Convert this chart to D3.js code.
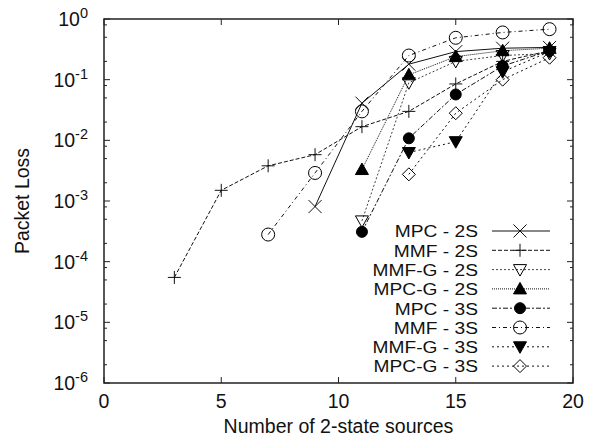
<!DOCTYPE html>
<html>
<head>
<meta charset="utf-8">
<script src="https://cdn.jsdelivr.net/npm/d3@7"></script>
<style>
  body { margin: 0; background: #fff; }
  text { font-family: "Liberation Sans", Arial, sans-serif; fill: #111; }
</style>
</head>
<body>
<div id="chart"></div>
<script>
// x values (number of 2-state sources) and packet loss for each series
const mpc2sX = [9, 11, 13, 15, 17, 19];
const mpc2sY = [8.1e-4, 0.041, 0.18, 0.29, 0.33, 0.34];
const mmf2sX = [3, 5, 7, 9, 11, 13, 15, 17, 19];
const mmf2sY = [5.5e-5, 1.5e-3, 3.8e-3, 5.8e-3, 0.0168, 0.030, 0.085, 0.20, 0.30];
const mmfg2sX = [11, 13, 15, 17, 19];
const mmfg2sY = [4.7e-4, 0.089, 0.20, 0.25, 0.27];
const mpcg2sX = [11, 13, 15, 17, 19];
const mpcg2sY = [3.3e-3, 0.12, 0.24, 0.30, 0.33];
const mpc3sX = [11, 13, 15, 17, 19];
const mpc3sY = [3.1e-4, 0.0108, 0.057, 0.168, 0.30];
const mmf3sX = [7, 9, 11, 13, 15, 17, 19];
const mmf3sY = [2.8e-4, 2.9e-3, 0.030, 0.25, 0.49, 0.60, 0.68];
const mmfg3sX = [13, 15, 17, 19];
const mmfg3sY = [6.3e-3, 0.0095, 0.135, 0.29];
const mpcg3sX = [13, 15, 17, 19];
const mpcg3sY = [2.75e-3, 0.028, 0.10, 0.23];

const xTicks = [0, 5, 10, 15, 20];
const yExponents = [0, -1, -2, -3, -4, -5, -6];

const series = [
  { name: "MPC - 2S", xs: mpc2sX, ys: mpc2sY, marker: "x", dash: null, color: "#111" },
  { name: "MMF - 2S", xs: mmf2sX, ys: mmf2sY, marker: "plus", dash: "4,2", color: "#111" },
  { name: "MMF-G - 2S", xs: mmfg2sX, ys: mmfg2sY, marker: "tridown-open", dash: "2,2", color: "#444" },
  { name: "MPC-G - 2S", xs: mpcg2sX, ys: mpcg2sY, marker: "triup-filled", dash: "1,1", color: "#111" },
  { name: "MPC - 3S", xs: mpc3sX, ys: mpc3sY, marker: "circle-filled", dash: "5,2,2,2", color: "#111" },
  { name: "MMF - 3S", xs: mmf3sX, ys: mmf3sY, marker: "circle-open", dash: "4,3,1,3", color: "#111" },
  { name: "MMF-G - 3S", xs: mmfg3sX, ys: mmfg3sY, marker: "tridown-filled", dash: "2,3", color: "#111" },
  { name: "MPC-G - 3S", xs: mpcg3sX, ys: mpcg3sY, marker: "diamond-open", dash: "2,3", color: "#111" }
];

const width = 597, height = 443;
const margin = { top: 19, right: 24, bottom: 60, left: 104 };

const svg = d3.select("#chart").append("svg")
  .attr("width", width)
  .attr("height", height);

const x = d3.scaleLinear().domain([0, 20]).range([margin.left, width - margin.right]);
const y = d3.scaleLog().domain([1e-6, 1]).range([height - margin.bottom, margin.top]);

const x0 = x.range()[0], x1 = x.range()[1];
const y0 = y.range()[0], y1 = y.range()[1];

// ticks (inward, mirrored)
const ticks = svg.append("g").attr("stroke", "#222").attr("stroke-width", 1);
xTicks.forEach(t => {
  ticks.append("line").attr("x1", x(t)).attr("x2", x(t)).attr("y1", y0).attr("y2", y0 - 6);
  ticks.append("line").attr("x1", x(t)).attr("x2", x(t)).attr("y1", y1).attr("y2", y1 + 6);
});
yExponents.forEach(e => {
  const v = Math.pow(10, e);
  ticks.append("line").attr("x1", x0).attr("x2", x0 + 6).attr("y1", y(v)).attr("y2", y(v));
  ticks.append("line").attr("x1", x1).attr("x2", x1 - 6).attr("y1", y(v)).attr("y2", y(v));
  if (e < 0) {
    [2, 5, 8].forEach(m => {
      const mv = m * v;
      ticks.append("line").attr("x1", x0).attr("x2", x0 + 3).attr("y1", y(mv)).attr("y2", y(mv));
      ticks.append("line").attr("x1", x1).attr("x2", x1 - 3).attr("y1", y(mv)).attr("y2", y(mv));
    });
  }
});

// frame
svg.append("rect")
  .attr("x", x0).attr("y", y1)
  .attr("width", x1 - x0).attr("height", y0 - y1)
  .attr("fill", "none").attr("stroke", "#222").attr("stroke-width", 1.5);

// tick labels
svg.selectAll(".xlab")
  .data(xTicks)
  .enter()
  .append("text")
  .attr("x", d => x(d))
  .attr("y", y0 + 25)
  .attr("text-anchor", "middle")
  .style("font-size", "19.5px")
  .text(d => d);

yExponents.forEach(e => {
  const t = svg.append("text")
    .attr("x", 88)
    .attr("y", y(Math.pow(10, e)) + 7)
    .attr("text-anchor", "end")
    .style("font-size", "19.5px");
  t.append("tspan").text("10");
  t.append("tspan").attr("dy", -8).style("font-size", "14.5px").text(e);
});

// axis titles
svg.append("text")
  .attr("x", (x0 + x1) / 2)
  .attr("y", 433)
  .attr("text-anchor", "middle")
  .style("font-size", "19.5px")
  .text("Number of 2-state sources");

svg.append("text")
  .attr("transform", `translate(29, ${(y0 + y1) / 2}) rotate(-90)`)
  .attr("text-anchor", "middle")
  .style("font-size", "19.5px")
  .text("Packet Loss");

function drawMarker(g, type, cx, cy, color) {
  const s = 6.5;
  if (type === "x") {
    g.append("path").attr("d", `M${cx - s},${cy - s}L${cx + s},${cy + s}M${cx - s},${cy + s}L${cx + s},${cy - s}`)
      .attr("stroke", color).attr("stroke-width", 1).attr("fill", "none");
  } else if (type === "plus") {
    g.append("path").attr("d", `M${cx - s},${cy}L${cx + s},${cy}M${cx},${cy - s}L${cx},${cy + s}`)
      .attr("stroke", color).attr("stroke-width", 1).attr("fill", "none");
  } else if (type.startsWith("circle")) {
    const filled = type.endsWith("filled");
    g.append("circle").attr("cx", cx).attr("cy", cy).attr("r", filled ? 5.5 : 6.5)
      .attr("fill", filled ? "#000" : "none").attr("stroke", "#000").attr("stroke-width", 1);
  } else if (type.startsWith("triup")) {
    g.append("path").attr("d", `M${cx},${cy - 6.5}L${cx + 6.5},${cy + 5}L${cx - 6.5},${cy + 5}Z`)
      .attr("fill", "#000").attr("stroke", "#000");
  } else if (type.startsWith("tridown")) {
    const filled = type.endsWith("filled");
    g.append("path").attr("d", `M${cx - 6.5},${cy - 5}L${cx + 6.5},${cy - 5}L${cx},${cy + 6.5}Z`)
      .attr("fill", filled ? "#000" : "none").attr("stroke", "#000").attr("stroke-width", 1);
  } else if (type.startsWith("diamond")) {
    g.append("path").attr("d", `M${cx},${cy - 6.5}L${cx + 6.5},${cy}L${cx},${cy + 6.5}L${cx - 6.5},${cy}Z`)
      .attr("fill", "none").attr("stroke", "#000").attr("stroke-width", 1);
  }
}

const line = d3.line().x(d => x(d[0])).y(d => y(d[1]));

series.forEach(s => {
  const pts = s.xs.map((v, i) => [v, s.ys[i]]);
  const g = svg.append("g");
  g.append("path")
    .datum(pts)
    .attr("d", line)
    .attr("fill", "none")
    .attr("stroke", s.color)
    .attr("stroke-width", 1)
    .attr("stroke-dasharray", s.dash);
  pts.forEach(p => drawMarker(g, s.marker, x(p[0]), y(p[1]), s.color));
});

// legend (rows are tight, so the text is a bit narrower in height and stretched sideways)
const legend = svg.append("g");
series.forEach((s, i) => {
  const ly = 231 + i * 19.3;
  legend.append("g")
    .attr("transform", `translate(478, ${ly + 6.3}) scale(1.13, 1)`)
    .append("text")
    .attr("text-anchor", "end")
    .style("font-size", "17px")
    .text(s.name);
  legend.append("line")
    .attr("x1", 492).attr("x2", 550)
    .attr("y1", ly).attr("y2", ly)
    .attr("stroke", s.color)
    .attr("stroke-width", 1)
    .attr("stroke-dasharray", s.dash);
  drawMarker(legend, s.marker, 520, ly, s.color);
});
</script>
</body>
</html>
